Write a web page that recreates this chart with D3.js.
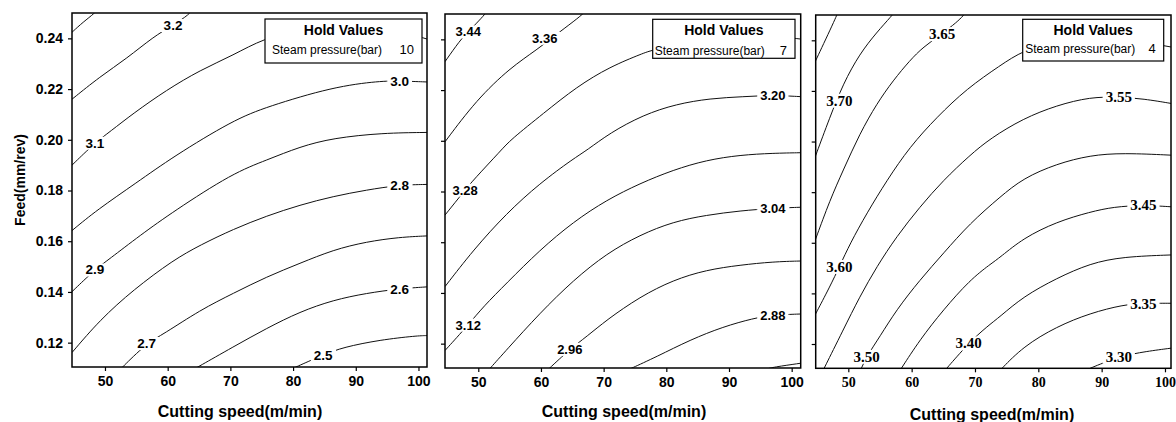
<!DOCTYPE html>
<html>
<head>
<meta charset="utf-8">
<script src="https://cdn.jsdelivr.net/npm/d3@7"></script>
<style>
  body { margin: 0; background: #fff; }
  svg { display: block; }
</style>
</head>
<body>
<div class="chart"></div>
<script>
// Axis ticks and hold values
const xTicks = [50, 60, 70, 80, 90, 100];
const yTicks = [0.12, 0.14, 0.16, 0.18, 0.20, 0.22, 0.24];
const steamPressure = [10, 7, 4];

// Contour lines: [cutting speed, feed]
// Steam pressure 10 bar
const contours10 = [
  { level: 3.3, pts: [[44.74, 0.2424], [46.5, 0.2464], [48.4, 0.2500], [48.8, 0.2515]] },
  { level: 3.2, pts: [[44.74, 0.2160], [49.2, 0.2249], [53.5, 0.2321], [57.7, 0.2406], [60.85, 0.2452], [63.55, 0.2496], [63.9, 0.2515]] },
  { level: 3.1, pts: [[44.74, 0.1900], [48.4, 0.1988], [50.8, 0.2032], [54.5, 0.2104], [59.8, 0.2196], [65.2, 0.2275], [70.5, 0.2334], [75.3, 0.2400], [81.1, 0.2433], [89.1, 0.2445], [97.0, 0.2430], [101.4, 0.2397]] },
  { level: 3.0, pts: [[44.74, 0.1642], [48.7, 0.1723], [55.0, 0.1830], [60.85, 0.1933], [70.5, 0.2078], [75.8, 0.2130], [86.4, 0.2209], [93.9, 0.2232], [97.0, 0.2232], [101.4, 0.2228]] },
  { level: 2.9, pts: [[44.74, 0.1401], [48.4, 0.1488], [50.5, 0.1526], [55.7, 0.1625], [60.9, 0.1717], [70.4, 0.1869], [75.8, 0.1920], [81.1, 0.1973], [86.4, 0.2007], [94.3, 0.2027], [101.4, 0.2029]] },
  { level: 2.8, pts: [[44.74, 0.1161], [49.2, 0.1290], [54.5, 0.1408], [60.9, 0.1526], [65.2, 0.1585], [70.5, 0.1648], [75.8, 0.1700], [81.1, 0.1743], [86.4, 0.1777], [91.7, 0.1802], [97.0, 0.1822], [101.4, 0.1824]] },
  { level: 2.7, pts: [[52.4, 0.1094], [56.65, 0.1198], [59.3, 0.1233], [65.2, 0.1329], [70.5, 0.1395], [75.8, 0.1460], [81.1, 0.1513], [86.4, 0.1566], [91.7, 0.1598], [97.0, 0.1616], [101.4, 0.1621]] },
  { level: 2.6, pts: [[64.6, 0.1101], [70.5, 0.1184], [75.8, 0.1257], [81.1, 0.1322], [86.4, 0.1368], [91.7, 0.1395], [97.0, 0.1413], [101.4, 0.1420]] },
  { level: 2.5, pts: [[80.1, 0.1100], [84.8, 0.1152], [88.0, 0.1182], [93.9, 0.1211], [99.7, 0.1227], [101.4, 0.1228]] }
];
const labels10 = [
  { text: "3.2", x: 60.85, y: 0.2452 }, { text: "3.1", x: 48.4, y: 0.1988 },
  { text: "3.0", x: 97.0, y: 0.2232 }, { text: "2.9", x: 48.4, y: 0.1488 },
  { text: "2.8", x: 97.0, y: 0.1822 }, { text: "2.7", x: 56.65, y: 0.1198 },
  { text: "2.6", x: 97.0, y: 0.1413 }, { text: "2.5", x: 84.8, y: 0.1152 }
];

// Steam pressure 7 bar
const contours7 = [
  { level: 3.44, pts: [[44.69, 0.2312], [47.1, 0.2397], [48.4, 0.2430], [49.7, 0.2463], [51.1, 0.2500], [51.5, 0.2515]] },
  { level: 3.36, pts: [[44.69, 0.1996], [49.7, 0.2161], [55.1, 0.2288], [59.3, 0.2358], [63.0, 0.2430], [66.0, 0.2485], [67.3, 0.2515]] },
  { level: 3.28, pts: [[44.69, 0.1707], [47.9, 0.1806], [49.2, 0.1845], [53.7, 0.1964], [55.1, 0.2003], [60.4, 0.2108], [65.7, 0.2213], [71.0, 0.2292], [76.3, 0.2345], [77.7, 0.2358], [85.4, 0.2397], [91.8, 0.2413], [97.4, 0.2413], [101.5, 0.2401]] },
  { level: 3.20, pts: [[44.69, 0.1425], [49.2, 0.1569], [54.5, 0.1714], [59.8, 0.1832], [65.2, 0.1930], [67.3, 0.1962], [71.0, 0.2031], [76.3, 0.2102], [81.6, 0.2145], [87.0, 0.2167], [92.3, 0.2174], [97.0, 0.2180], [101.5, 0.2174]] },
  { level: 3.12, pts: [[44.69, 0.1173], [48.4, 0.1274], [50.8, 0.1346], [54.5, 0.1438], [59.8, 0.1569], [65.2, 0.1681], [70.5, 0.1767], [75.8, 0.1832], [81.1, 0.1885], [86.4, 0.1924], [91.8, 0.1944], [97.0, 0.1951], [101.5, 0.1953]] },
  { level: 3.04, pts: [[51.6, 0.1095], [54.5, 0.1175], [59.8, 0.1320], [65.2, 0.1451], [70.5, 0.1556], [75.8, 0.1629], [81.1, 0.1681], [86.4, 0.1707], [91.8, 0.1724], [97.0, 0.1734], [101.5, 0.1738]] },
  { level: 2.96, pts: [[61.1, 0.1097], [64.6, 0.1178], [67.3, 0.1228], [70.5, 0.1294], [75.8, 0.1385], [81.1, 0.1451], [86.4, 0.1491], [91.8, 0.1510], [97.0, 0.1523], [101.5, 0.1526]] },
  { level: 2.88, pts: [[74.0, 0.1098], [78.5, 0.1149], [83.8, 0.1215], [89.1, 0.1267], [93.9, 0.1300], [97.0, 0.1313], [101.5, 0.1317]] },
  { level: 2.80, pts: [[96.0, 0.1100], [97.0, 0.1107], [101.5, 0.1123]] }
];
const labels7 = [
  { text: "3.44", x: 48.4, y: 0.2430 }, { text: "3.36", x: 60.6, y: 0.2405 },
  { text: "3.28", x: 47.9, y: 0.1806 }, { text: "3.20", x: 97.0, y: 0.2180 },
  { text: "3.12", x: 48.4, y: 0.1274 }, { text: "3.04", x: 97.0, y: 0.1734 },
  { text: "2.96", x: 64.6, y: 0.1178 }, { text: "2.88", x: 97.0, y: 0.1313 }
];

// Steam pressure 4 bar
const contours4 = [
  { level: 3.75, pts: [[44.7, 0.2312], [48.2, 0.2498], [48.4, 0.2515]] },
  { level: 3.70, pts: [[44.7, 0.1935], [47.1, 0.2097], [49.2, 0.2229], [51.8, 0.2347], [54.5, 0.2432], [56.9, 0.2498], [57.4, 0.2515]] },
  { level: 3.65, pts: [[44.8, 0.1612], [47.1, 0.1769], [49.2, 0.1887], [51.8, 0.2031], [54.5, 0.2150], [57.1, 0.2242], [59.7, 0.2320], [61.8, 0.2373], [64.8, 0.2426], [67.1, 0.2471], [68.2, 0.2498], [68.6, 0.2515]] },
  { level: 3.60, pts: [[44.75, 0.1315], [47.1, 0.1427], [48.6, 0.1506], [50.3, 0.1598], [52.9, 0.1716], [56.1, 0.1847], [59.7, 0.1979], [64.0, 0.2097], [68.7, 0.2209], [74.0, 0.2301], [77.6, 0.2360], [82.9, 0.2399], [88.2, 0.2415], [93.4, 0.2407], [101.1, 0.2373]] },
  { level: 3.55, pts: [[46.0, 0.1095], [49.2, 0.1256], [51.8, 0.1387], [54.5, 0.1506], [57.6, 0.1624], [61.3, 0.1742], [65.0, 0.1847], [69.2, 0.1946], [72.4, 0.2012], [77.6, 0.2091], [82.9, 0.2143], [88.2, 0.2176], [92.7, 0.2176], [96.6, 0.2169], [101.1, 0.2150]] },
  { level: 3.50, pts: [[51.9, 0.1095], [52.9, 0.1151], [55.0, 0.1230], [57.6, 0.1335], [61.3, 0.1453], [65.0, 0.1558], [69.2, 0.1677], [74.0, 0.1782], [77.6, 0.1855], [82.9, 0.1912], [88.2, 0.1946], [93.4, 0.1955], [101.1, 0.1946]] },
  { level: 3.45, pts: [[58.2, 0.1097], [61.3, 0.1217], [65.0, 0.1335], [69.2, 0.1453], [72.4, 0.1515], [74.0, 0.1543], [77.6, 0.1618], [82.9, 0.1683], [88.2, 0.1722], [91.9, 0.1742], [96.6, 0.1749], [101.1, 0.1742]] },
  { level: 3.40, pts: [[65.3, 0.1097], [69.0, 0.1204], [71.9, 0.1269], [74.0, 0.1309], [77.6, 0.1387], [82.9, 0.1460], [88.2, 0.1519], [93.4, 0.1545], [101.1, 0.1552]] },
  { level: 3.35, pts: [[74.0, 0.1097], [77.6, 0.1190], [82.9, 0.1269], [88.2, 0.1322], [93.4, 0.1355], [96.6, 0.1361], [101.1, 0.1361]] },
  { level: 3.30, pts: [[87.8, 0.1100], [92.7, 0.1151], [97.1, 0.1171], [101.1, 0.1184]] }
];
const labels4 = [
  { text: "3.70", x: 48.6, y: 0.2163 }, { text: "3.65", x: 64.8, y: 0.2426 },
  { text: "3.60", x: 48.6, y: 0.1506 }, { text: "3.55", x: 92.7, y: 0.2176 },
  { text: "3.50", x: 52.9, y: 0.1151 }, { text: "3.45", x: 96.6, y: 0.1749 },
  { text: "3.40", x: 69.0, y: 0.1204 }, { text: "3.35", x: 96.6, y: 0.1361 },
  { text: "3.30", x: 92.7, y: 0.1151 }
];

const sans = "'Liberation Sans', Arial, sans-serif";
const serif = "'Liberation Serif', 'Times New Roman', serif";

// layout of the three panels (pixels)
const panels = [
  { lines: contours10, labels: labels10, hold: steamPressure[0],
    left: 72, right: 427, top: 13, bottom: 367, xDomain: [44.74, 101.36],
    tickFont: sans, labelFont: sans, labelSize: 13.5, showY: true,
    box: { x: 265, y: 19, w: 157, h: 44, tx: 7, ty: 34.5 }, titleX: 240, titleY: 417 },
  { lines: contours7, labels: labels7, hold: steamPressure[1],
    left: 445, right: 800.7, top: 14, bottom: 368, xDomain: [44.69, 101.44],
    tickFont: sans, labelFont: sans, labelSize: 13, showY: false,
    box: { x: 652.7, y: 19.3, w: 142.3, h: 39, tx: 2, ty: 35.5 }, titleX: 624, titleY: 417 },
  { lines: contours4, labels: labels4, hold: steamPressure[2],
    left: 815.7, right: 1171, top: 15, bottom: 368.3, xDomain: [44.85, 100.95],
    tickFont: serif, labelFont: serif, labelSize: 15, showY: false,
    box: { x: 1022.7, y: 19.3, w: 141, h: 41.7, tx: 2.5, ty: 34 }, titleX: 992, titleY: 420 }
];
const yDomain = [0.1104, 0.2500];

const svg = d3.select(".chart").append("svg")
    .attr("width", 1176)
    .attr("height", 422);

panels.forEach((p, i) => {
  const x = d3.scaleLinear().domain(p.xDomain).range([p.left, p.right]);
  const y = d3.scaleLinear().domain(yDomain).range([p.bottom, p.top]);
  const g = svg.append("g");

  g.append("clipPath")
      .attr("id", "clip" + i)
    .append("rect")
      .attr("x", p.left)
      .attr("y", p.top)
      .attr("width", p.right - p.left)
      .attr("height", p.bottom - p.top);

  // B-spline smooths out the reading noise in the traced points
  const line = d3.line()
      .x(d => x(d[0]))
      .y(d => y(d[1]))
      .curve(d3.curveBasis);

  // contour lines
  g.append("g")
      .attr("clip-path", `url(#clip${i})`)
    .selectAll("path")
    .data(p.lines)
    .join("path")
      .attr("d", d => line(d.pts))
      .attr("fill", "none")
      .attr("stroke", "#111")
      .attr("stroke-width", 1);

  // contour labels, with a white patch that breaks the line
  const lab = g.append("g")
    .selectAll("g")
    .data(p.labels)
    .join("g")
      .attr("transform", d => `translate(${x(d.x)},${y(d.y)})`);

  lab.append("text")
      .attr("text-anchor", "middle")
      .attr("dy", "0.36em")
      .style("font-family", p.labelFont)
      .style("font-weight", "bold")
      .style("font-size", p.labelSize + "px")
      .text(d => d.text);

  lab.each(function () {
    const b = d3.select(this).select("text").node().getBBox();
    d3.select(this).insert("rect", "text")
        .attr("x", b.x - 3)
        .attr("y", b.y + 1)
        .attr("width", b.width + 6)
        .attr("height", b.height - 2)
        .attr("fill", "#fff");
  });

  // hold values box
  const box = g.append("g").attr("transform", `translate(${p.box.x},${p.box.y})`);
  box.append("rect")
      .attr("width", p.box.w)
      .attr("height", p.box.h)
      .attr("fill", "#fff")
      .attr("stroke", "#000")
      .attr("stroke-width", 1.2);
  box.append("text")
      .attr("x", p.box.w / 2)
      .attr("y", 16)
      .attr("text-anchor", "middle")
      .style("font-family", sans)
      .style("font-weight", "bold")
      .style("font-size", "14px")
      .text("Hold Values");
  box.append("text")
      .attr("x", p.box.tx)
      .attr("y", p.box.ty)
      .style("font-family", sans)
      .style("font-size", "12px")
      .text("Steam pressure(bar)");
  box.append("text")
      .attr("x", p.box.w - 8)
      .attr("y", p.box.ty)
      .attr("text-anchor", "end")
      .style("font-family", sans)
      .style("font-size", "13px")
      .text(p.hold);

  // axes
  const xAxis = g.append("g")
      .attr("transform", `translate(0,${p.bottom})`)
      .call(d3.axisBottom(x).tickValues(xTicks).tickSize(4).tickSizeOuter(0).tickPadding(5));
  const yAxis = g.append("g")
      .attr("transform", `translate(${p.left},0)`)
      .call(d3.axisLeft(y).tickValues(yTicks).tickSize(4).tickSizeOuter(0).tickPadding(5)
        .tickFormat(p.showY ? d3.format(".2f") : ""));

  [xAxis, yAxis].forEach(a => {
    a.select(".domain").remove();
    a.selectAll("line").attr("stroke", "#000").attr("stroke-width", 1.2);
    a.selectAll("text")
        .attr("fill", "#000")
        .style("font-family", p.tickFont)
        .style("font-weight", "bold")
        .style("font-size", "14px");
  });

  // plot frame
  g.append("rect")
      .attr("x", p.left)
      .attr("y", p.top)
      .attr("width", p.right - p.left)
      .attr("height", p.bottom - p.top)
      .attr("fill", "none")
      .attr("stroke", "#000")
      .attr("stroke-width", 1.5);

  // x-axis title
  g.append("text")
      .attr("x", p.titleX)
      .attr("y", p.titleY)
      .attr("text-anchor", "middle")
      .style("font-family", sans)
      .style("font-weight", "bold")
      .style("font-size", "16px")
      .text("Cutting speed(m/min)");
});

// y-axis title
svg.append("text")
    .attr("transform", "translate(25,180) rotate(-90)")
    .attr("text-anchor", "middle")
    .style("font-family", sans)
    .style("font-weight", "bold")
    .style("font-size", "14px")
    .text("Feed(mm/rev)");
</script>
</body>
</html>
